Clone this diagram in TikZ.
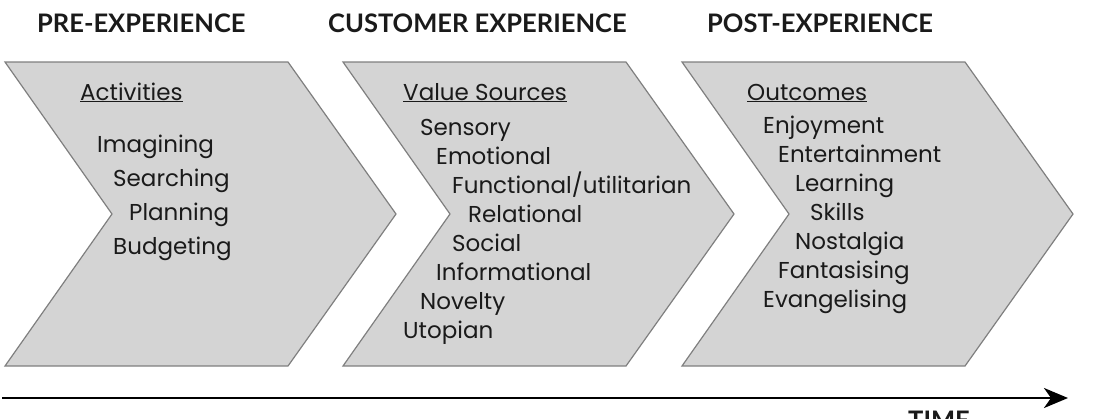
\documentclass[tikz,border=0pt]{standalone}
\usepackage{fontspec}
\setmainfont{Poppins}
\newfontfamily\headfont{Lato}
\usetikzlibrary{arrows.meta}
\definecolor{chevfill}{HTML}{D4D4D4}
\definecolor{chevline}{HTML}{7F7F7F}
\definecolor{ink}{HTML}{1A1A1A}
\begin{document}
\begin{tikzpicture}[x=1pt,y=-1pt,
  chevron/.style={fill=chevfill,draw=chevline,line width=1.2pt,line join=miter},
  head/.style={anchor=base west,inner sep=0pt,font=\headfont\bfseries\fontsize{25.5}{25.5}\selectfont,text=ink},
  item/.style={anchor=base west,inner sep=0pt,font=\fontsize{23}{23}\selectfont,text=ink},
  title/.style={item},
  timeline/.style={line width=2.6pt,-{Stealth[length=24pt,width=20pt,inset=7pt]}}]
\useasboundingbox (0,0) rectangle (1110,418);
\foreach \X/\n in {5/a,343/b,682/c}{
  \draw[chevron] (\X,62) -- ++(283,0) -- ++(108,152) -- ++(-108,152) -- ++(-283,0) -- ++(107,-152) -- cycle;
}
% headers
\node[head] (h1) at (37,32) {PRE-EXPERIENCE};
\node[head] (h2) at (328,32) {CUSTOMER EXPERIENCE};
\node[head] (h3) at (707,32) {POST-EXPERIENCE};
% chevron 1
\node[title] (t1) at (80,100) {\underline{Activities}};
\node[item] (a1) at (97,152) {Imagining};
\node[item] (a2) at (113,186) {Searching};
\node[item] (a3) at (129,220) {Planning};
\node[item] (a4) at (113,254) {Budgeting};
% chevron 2
\node[title] (t2) at (403,100) {\underline{Value Sources}};
\node[item] (b1) at (420,135) {Sensory};
\node[item] (b2) at (436,164) {Emotional};
\node[item] (b3) at (452,193) {Functional/utilitarian};
\node[item] (b4) at (468,222) {Relational};
\node[item] (b5) at (452,251) {Social};
\node[item] (b6) at (436,280) {Informational};
\node[item] (b7) at (420,309) {Novelty};
\node[item] (b8) at (403,338) {Utopian};
% chevron 3
\node[title] (t3) at (747,100) {\underline{Outcomes}};
\node[item] (c1) at (763,133) {Enjoyment};
\node[item] (c2) at (778,162) {Entertainment};
\node[item] (c3) at (795,191) {Learning};
\node[item] (c4) at (810,220) {Skills};
\node[item] (c5) at (795,249) {Nostalgia};
\node[item] (c6) at (778,278) {Fantasising};
\node[item] (c7) at (763,307) {Evangelising};
% time arrow
\coordinate (ts) at (2,398);
\coordinate (te) at (1068,398);
\draw[timeline] (ts) -- (te);
\node[head] (time) at (908,429) {TIME};
\end{tikzpicture}
\end{document}
